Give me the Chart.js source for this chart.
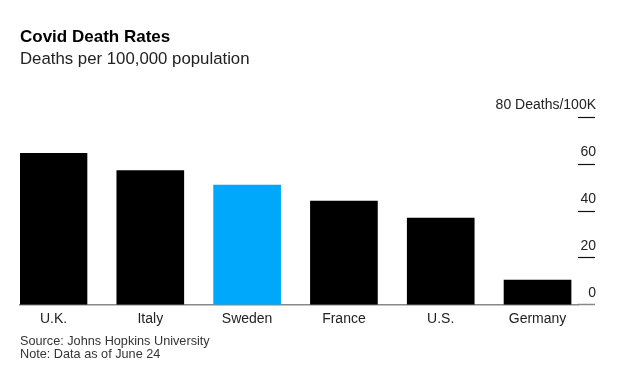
<!DOCTYPE html>
<html>
<head>
<meta charset="utf-8">
<script src="https://cdn.jsdelivr.net/npm/chart.js@4/dist/chart.umd.min.js"></script>
<style>
  html, body { margin: 0; padding: 0; background: #fff; }
  #wrap { width: 620px; height: 376px; }
</style>
</head>
<body>
<div id="wrap"><canvas id="c" width="620" height="376"></canvas></div>
<script>
const categories = ["U.K.", "Italy", "Sweden", "France", "U.S.", "Germany"];
const deathRates = [64.7, 57.4, 51.1, 44.3, 37.0, 10.6];
const highlight = "Sweden";
const yTickValues = [0, 20, 40, 60, 80];
const yTickLabels = ["0", "20", "40", "60", "80 Deaths/100K"];
const titleText = "Covid Death Rates";
const subtitleText = "Deaths per 100,000 population";
const footerLines = ["Source: Johns Hopkins University", "Note: Data as of June 24"];

const FONT = "'Liberation Sans', Arial, sans-serif";

const points = deathRates.map((v, i) => ({ x: i, y: v }));
const colors = categories.map(c => c === highlight ? "#00a8fc" : "#000000");

new Chart(document.getElementById("c"), {
  type: "bar",
  data: {
    datasets: [{
      data: points,
      backgroundColor: colors,
      borderWidth: 0,
      barThickness: 67
    }]
  },
  options: {
    responsive: false,
    animation: false,
    devicePixelRatio: 1,
    layout: { padding: { left: 20, right: 25, top: 27, bottom: 15 } },
    plugins: {
      legend: { display: false },
      tooltip: { enabled: false },
      title: {
        display: true, text: titleText, align: "start",
        color: "#000", font: { family: FONT, size: 17, weight: "bold" },
        padding: { top: 0, bottom: 2 }
      },
      subtitle: {
        display: true, text: subtitleText, align: "start",
        color: "#222", font: { family: FONT, size: 16.8, weight: "normal" },
        padding: { top: 0, bottom: 48 }
      }
    },
    scales: {
      x: {
        type: "linear",
        offset: false,
        min: -0.346,
        max: 5.418,
        afterFit: (s) => { s.paddingLeft = 0; s.paddingRight = 0; },
        grid: { display: false, drawTicks: false, offset: false },
        border: { display: true, color: "#888", width: 1.5 },
        ticks: {
          stepSize: 1,
          includeBounds: false,
          autoSkip: false,
          maxRotation: 0,
          padding: 6,
          color: "#222",
          font: { family: FONT, size: 14 },
          callback: (v) => Number.isInteger(v) && categories[v] !== undefined ? categories[v] : ""
        },
        title: {
          display: true, text: footerLines, align: "start",
          color: "#333", font: { family: FONT, size: 12.7, lineHeight: 1.0 },
          padding: { top: 2, bottom: 0 }
        }
      },
      y: {
        position: "right",
        min: 0, max: 80,
        afterBuildTicks: (scale) => { scale.ticks = yTickValues.map(v => ({ value: v })); },
        afterFit: (s) => { s.width = 17; },
        grid: {
          drawOnChartArea: false,
          drawTicks: true,
          tickLength: 17,
          tickWidth: (ctx) => ctx.tick && ctx.tick.value === 0 ? 1.5 : 1.2,
          tickColor: (ctx) => ctx.tick && ctx.tick.value === 0 ? "#888" : "#111"
        },
        border: { display: false },
        ticks: {
          mirror: true,
          padding: 18,
          labelOffset: -12,
          color: "#222",
          font: { family: FONT, size: 14 },
          callback: (v) => { const i = yTickValues.indexOf(v); return i >= 0 ? yTickLabels[i] : ""; }
        }
      }
    }
  }
});
</script>
</body>
</html>
